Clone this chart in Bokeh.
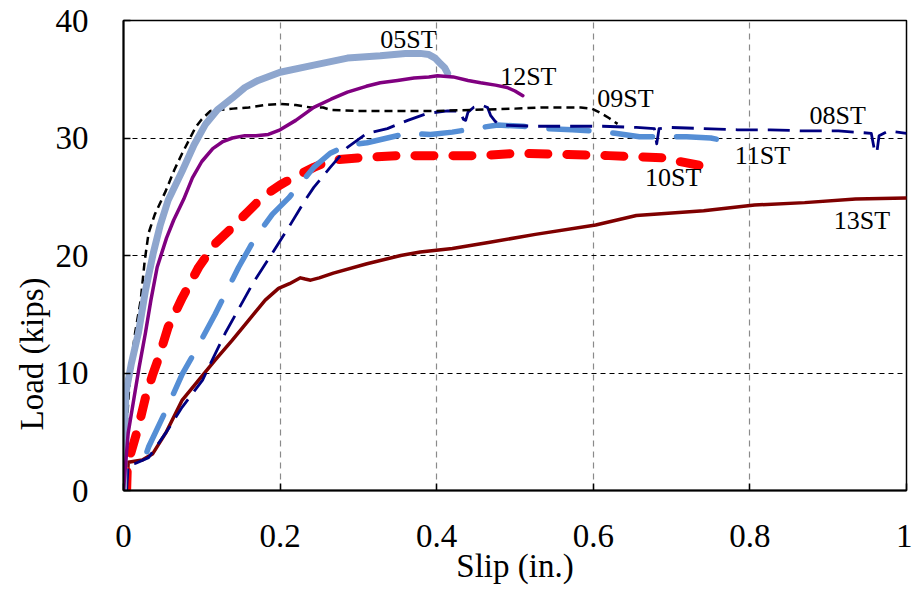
from bokeh.embed import file_html
from bokeh.models import FixedTicker, Label, Title
from bokeh.plotting import figure
from bokeh.resources import INLINE

# Load-slip curves (slip in inches, load in kips)
slip_05 = [0, 0.001, 0.003, 0.01, 0.019, 0.028, 0.038, 0.047, 0.057, 0.075, 0.09, 0.105,
           0.12, 0.139, 0.155, 0.172, 0.2, 0.243, 0.286, 0.328, 0.36, 0.379, 0.39, 0.398,
           0.405, 0.41, 0.414]
load_05 = [0, 4, 8.3, 10.8, 13.4, 17, 20.2, 22.6, 24.7, 27.2, 29.4, 31.2,
           32.4, 33.4, 34.3, 34.9, 35.6, 36.2, 36.8, 37.0, 37.2, 37.2, 37.1, 36.8,
           36.3, 36.0, 35.5]

slip_12 = [0, 0.002, 0.006, 0.013, 0.02, 0.028, 0.035, 0.043, 0.055, 0.064, 0.077, 0.088,
           0.1, 0.114, 0.127, 0.139, 0.155, 0.169, 0.185, 0.2, 0.22, 0.243, 0.265, 0.286,
           0.31, 0.328, 0.35, 0.371, 0.39, 0.401, 0.421, 0.44, 0.456, 0.475, 0.49, 0.5, 0.51]
load_12 = [0, 1.7, 4.9, 7.7, 10.5, 13.4, 16.2, 19.0, 21.5, 23.0, 24.8, 26.6,
           28.0, 29.1, 29.7, 30.0, 30.2, 30.2, 30.3, 30.7, 31.5, 32.6, 33.3, 33.9,
           34.4, 34.7, 34.9, 35.1, 35.2, 35.3, 35.2, 34.9, 34.7, 34.5, 34.3, 34.0, 33.6]

slip_09 = [0, 0.002, 0.005, 0.009, 0.015, 0.022, 0.027, 0.032, 0.04, 0.054, 0.065, 0.075,
           0.085, 0.092, 0.1, 0.111, 0.125, 0.14, 0.16, 0.18, 0.2, 0.22, 0.239, 0.255,
           0.264, 0.3, 0.35, 0.4, 0.45, 0.5, 0.533, 0.584, 0.598, 0.61, 0.62, 0.631]
load_09 = [0, 3, 6.5, 10.5, 13.5, 16.2, 19.5, 21.9, 23.5, 25.5, 27.3, 28.7,
           30.0, 30.9, 31.6, 32.3, 32.4, 32.5, 32.6, 32.8, 32.9, 32.8, 32.6, 32.6,
           32.4, 32.3, 32.3, 32.3, 32.4, 32.5, 32.6, 32.6, 32.5, 32.1, 31.7, 31.2]

slip_08 = [0.004, 0.006, 0.015, 0.032, 0.054, 0.075, 0.101, 0.13, 0.165, 0.19,
           0.211, 0.232, 0.243, 0.264, 0.286, 0.311, 0.337, 0.363, 0.388, 0.414,
           0.43, 0.434, 0.437, 0.44, 0.447, 0.457, 0.465, 0.469, 0.475, 0.483,
           0.526, 0.568, 0.612, 0.655, 0.678, 0.681, 0.684, 0.697, 0.741, 0.784,
           0.826, 0.87, 0.913, 0.955, 0.959, 0.962, 0.965, 0.977, 1.0]
load_08 = [0, 2.2, 2.3, 2.8, 4.9, 7.1, 9.4, 13.4, 17.6, 20.2,
           22.4, 24.7, 25.8, 27.5, 29.2, 30.4, 30.8, 31.5, 32.1, 32.3,
           32.3, 31.6, 31.5, 32.2, 32.6, 32.8, 32.6, 31.9, 31.4, 31.1,
           31.0, 31.0, 31.0, 30.9, 30.8, 29.5, 30.8, 30.9, 30.8, 30.7,
           30.7, 30.6, 30.6, 30.4, 29.0, 28.7, 30.2, 30.6, 30.4]

slip_11 = [0.03, 0.032, 0.054, 0.075, 0.092, 0.117, 0.147, 0.169, 0.19, 0.211, 0.222,
           0.243, 0.264, 0.286, 0.311, 0.337, 0.363, 0.392, 0.42, 0.447, 0.478, 0.51,
           0.539, 0.573, 0.6, 0.628, 0.659, 0.69, 0.719, 0.75, 0.765, 0.784]
load_11 = [3.3, 3.7, 6.8, 9.9, 11.9, 15.0, 19.0, 21.6, 23.5, 24.9, 25.8,
           27.5, 28.7, 29.4, 29.6, 30.0, 30.4, 30.3, 30.5, 30.8, 31.1, 31.0,
           30.8, 30.7, 30.6, 30.4, 30.1, 30.1, 30.1, 30.0, 29.8, 29.4]

slip_10 = [0.004, 0.005, 0.009, 0.019, 0.028, 0.037, 0.045, 0.057, 0.075, 0.096, 0.117,
           0.139, 0.16, 0.178, 0.2, 0.216, 0.243, 0.264, 0.299, 0.35, 0.401, 0.456,
           0.503, 0.568, 0.62, 0.655, 0.693, 0.71, 0.741, 0.756]
load_10 = [0, 2.3, 3.1, 5.4, 7.9, 9.8, 11.3, 13.9, 16.4, 19.0, 21.0,
           22.4, 23.8, 25.0, 26.0, 26.6, 27.5, 28.1, 28.3, 28.5, 28.5, 28.5,
           28.7, 28.6, 28.5, 28.4, 28.3, 28.0, 27.6, 27.2]

slip_13 = [0.004, 0.006, 0.024, 0.037, 0.054, 0.075, 0.096, 0.117, 0.139, 0.16, 0.181,
           0.198, 0.212, 0.226, 0.232, 0.239, 0.25, 0.268, 0.311, 0.354, 0.379, 0.42,
           0.466, 0.526, 0.603, 0.655, 0.741, 0.806, 0.87, 0.935, 1.0]
load_13 = [0, 2.4, 2.6, 3.1, 4.9, 7.7, 9.4, 11.1, 12.8, 14.5, 16.2,
           17.2, 17.6, 18.1, 18.0, 17.9, 18.1, 18.5, 19.3, 20.0, 20.3, 20.6,
           21.1, 21.8, 22.6, 23.4, 23.8, 24.3, 24.5, 24.8, 24.9]

x_ticks = [0, 0.2, 0.4, 0.6, 0.8, 1]
x_tick_labels = ["0", "0.2", "0.4", "0.6", "0.8", "1"]
y_ticks = [0, 10, 20, 30, 40]
y_tick_labels = ["0", "10", "20", "30", "40"]

series = [
    ("13ST", slip_13, load_13),
    ("10ST", slip_10, load_10),
    ("11ST", slip_11, load_11),
    ("08ST", slip_08, load_08),
    ("09ST", slip_09, load_09),
    ("05ST", slip_05, load_05),
    ("12ST", slip_12, load_12),
]

# line appearance and where each specimen name sits (data coordinates)
styles = {
    "13ST": dict(color="#7F0000", width=3.5, dash="solid", cap="round", at=(0.943, 23.0)),
    "10ST": dict(color="#FF0000", width=9, dash="19 19", cap="round", at=(0.702, 26.6)),
    "11ST": dict(color="#558ED5", width=5.5, dash="40 24", cap="round", at=(0.816, 28.5)),
    "08ST": dict(color="#000080", width=2.8, dash="22 10", cap="butt", at=(0.912, 31.9)),
    "09ST": dict(color="#000000", width=2.5, dash="8 5", cap="butt", at=(0.641, 33.4)),
    "05ST": dict(color="#8EA6CE", width=7, dash="solid", cap="round", at=(0.364, 38.4)),
    "12ST": dict(color="#800080", width=3.5, dash="solid", cap="round", at=(0.517, 35.2)),
}

SERIF = "'Liberation Serif', 'Times New Roman', serif"

p = figure(width=912, height=590, x_range=(0, 1), y_range=(0, 40),
           output_backend="svg", toolbar_location=None,
           min_border_left=123, min_border_right=6, min_border_top=20, min_border_bottom=100)
p.background_fill_color = "white"
p.border_fill_color = "white"
p.outline_line_color = "black"
p.outline_line_width = 1.5

# grid: black dashes for load, grey dashes for slip
p.ygrid.grid_line_color = "black"
p.ygrid.grid_line_dash = "5 4"
p.ygrid.grid_line_width = 1
p.xgrid.grid_line_color = "#8a8a8a"
p.xgrid.grid_line_dash = "6 5"
p.xgrid.grid_line_width = 1.2

p.xaxis.ticker = FixedTicker(ticks=x_ticks)
p.yaxis.ticker = FixedTicker(ticks=y_ticks)
p.xaxis.major_label_overrides = dict(zip(x_ticks, x_tick_labels))
p.yaxis.major_label_overrides = dict(zip(y_ticks, y_tick_labels))

p.axis.axis_line_color = "black"
p.axis.axis_line_width = 2
p.axis.major_tick_line_color = "black"
p.axis.major_tick_line_width = 1.5
p.axis.major_tick_in = 7
p.axis.major_tick_out = 0
p.axis.minor_tick_line_color = None
p.axis.major_label_text_font = SERIF
p.axis.major_label_text_font_size = "33px"
p.axis.major_label_text_color = "black"

p.xaxis.major_label_standoff = 34
p.yaxis.major_label_standoff = 35

p.xaxis.axis_label = "Slip (in.)"
p.xaxis.axis_label_text_font = SERIF
p.xaxis.axis_label_text_font_size = "33px"
p.xaxis.axis_label_text_font_style = "normal"
p.xaxis.axis_label_text_color = "black"
p.xaxis.axis_label_standoff = -2

# vertical title on the left, sitting towards the lower part of the frame
p.add_layout(Title(text="Load (kips)", align="left", offset=60, standoff=6,
                   text_font=SERIF, text_font_size="33px", text_font_style="normal",
                   text_color="black"), "left")

for name, xs, ys in series:
    st = styles[name]
    p.line(xs, ys, line_color=st["color"], line_width=st["width"],
           line_dash=st["dash"], line_cap=st["cap"], line_join="round")

for name, xs, ys in series:
    st = styles[name]
    lx, ly = st["at"]
    p.add_layout(Label(x=lx, y=ly, text=name, text_align="center", text_baseline="middle",
                       text_font=SERIF, text_font_size="26px", text_color="black"))

open("out.html", "w").write(file_html(p, INLINE))
